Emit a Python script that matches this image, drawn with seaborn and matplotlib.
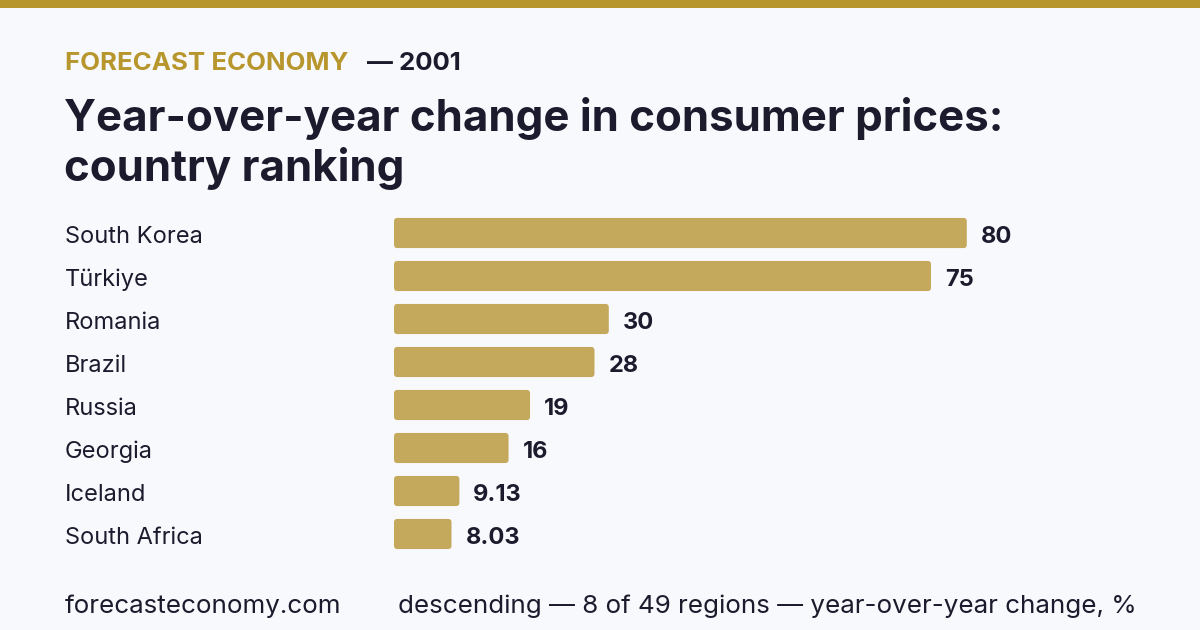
import pandas as pd
import matplotlib.pyplot as plt
import seaborn as sns
from matplotlib.patches import Rectangle, FancyBboxPatch

# Data
countries = ['South Korea', 'Türkiye', 'Romania', 'Brazil', 'Russia', 'Georgia', 'Iceland', 'South Africa']
changes = [80, 75, 30, 28, 19, 16, 9.13, 8.03]

BG = '#f8f9fc'
GOLD = '#b8962e'
BAR = '#c4a85c'
INK = '#1c1b2e'
W, H = 1200, 630

sns.set_style('white')
plt.rcParams['font.family'] = ['Inter', 'DejaVu Sans']

df = pd.DataFrame({'country': countries, 'change': changes})

fig = plt.figure(figsize=(12, 6.3), dpi=100, facecolor=BG)


def fx(px):
    return px / W


def fy(py):
    return 1 - py / H


# axes: x from 394px, rows 43px apart starting at 211.5px
ax = fig.add_axes([fx(394), fy(555.5), fx(716), 344 / H])
ax.set_facecolor(BG)
sns.barplot(data=df, x='change', y='country', color=BAR, width=0.7,
            saturation=1, ax=ax, orient='h')
ax.set_xlim(0, 100)
ax.set_ylim(7.5, -0.5)
ax.axis('off')

# round the bar corners
for p in list(ax.patches):
    rb = FancyBboxPatch((p.get_x(), p.get_y()), p.get_width(), p.get_height(),
                        boxstyle='round,pad=0,rounding_size=0.45',
                        mutation_aspect=0.18, facecolor=BAR,
                        edgecolor='none')
    p.set_visible(False)
    ax.add_patch(rb)

# value labels
for i, v in enumerate(changes):
    ax.annotate(f'{v:g}', xy=(v, i), xytext=(10, -7.5),
                textcoords='offset points', va='baseline', ha='left',
                fontsize=17, fontweight='bold', color=INK)

# country labels
trans = ax.get_yaxis_transform()
for i, c in enumerate(countries):
    ax.annotate(c, xy=(0, i), xycoords=trans, xytext=(fx(65), -7.5),
                textcoords=('figure fraction', 'offset points'),
                va='baseline', ha='left', fontsize=17, color=INK)

# top band
fig.patches.append(Rectangle((0, fy(8)), 1, 8 / H, transform=fig.transFigure,
                             facecolor=GOLD, edgecolor='none'))

# header
fig.text(fx(65), fy(70), 'FORECAST ECONOMY', fontsize=18.6, fontweight='bold',
         color=GOLD, va='baseline', ha='left')
fig.text(fx(367), fy(70), '— 2001', fontsize=18.6, fontweight='bold',
         color=INK, va='baseline', ha='left')

# title
fig.text(fx(64), fy(131), 'Year-over-year change in consumer prices:',
         fontsize=31.5, fontweight='bold', color=INK, va='baseline', ha='left')
fig.text(fx(64), fy(181), 'country ranking',
         fontsize=31.5, fontweight='bold', color=INK, va='baseline', ha='left')

# footer
fig.text(fx(65), fy(613), 'forecasteconomy.com', fontsize=18.7, color=INK,
         va='baseline', ha='left')
fig.text(fx(398), fy(613), 'descending — 8 of 49 regions — year-over-year change, %',
         fontsize=18.7, color=INK, va='baseline', ha='left')

fig.savefig('out.png', dpi=100, facecolor=BG)
